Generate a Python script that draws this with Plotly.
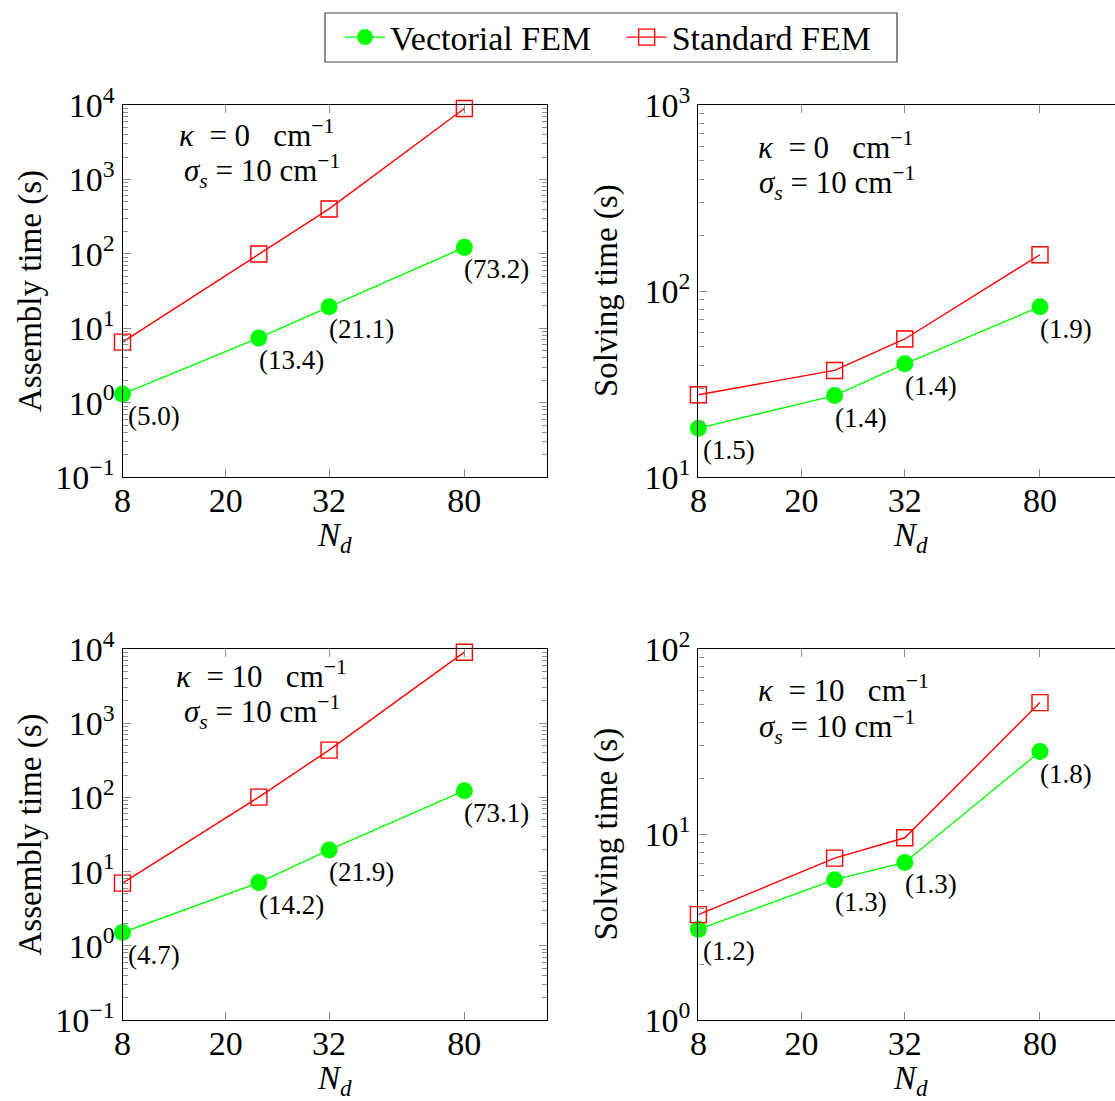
import numpy as np
import plotly.graph_objects as go

# ---------------- data ----------------
N_D = [8, 24, 32, 80]
X_TICKS = [8, 20, 32, 80]

asm_k0_vec = [1.30, 7.4, 19.4, 122]
asm_k0_std = [6.5, 99.5, 401, 8970]
asm_k0_ratio = [5.0, 13.4, 21.1, 73.2]

sol_k0_vec = [18.3, 27.4, 40.6, 82.4]
sol_k0_std = [27.7, 37.4, 55.2, 156.7]
sol_k0_ratio = [1.5, 1.4, 1.4, 1.9]

asm_k10_vec = [1.51, 7.11, 19.6, 123]
asm_k10_std = [7.0, 101, 434, 9060]
asm_k10_ratio = [4.7, 14.2, 21.9, 73.1]

sol_k10_vec = [3.08, 5.71, 7.07, 28.0]
sol_k10_std = [3.70, 7.46, 9.6, 51.4]
sol_k10_ratio = [1.2, 1.3, 1.3, 1.8]

# ---------------- scale (non-uniform horizontal axis of the original) ----------------
AXIS_POS = {8: 0.0, 20: 1.0, 24: 1.32, 32: 2.0, 80: 3.31}

FONT = "Liberation Serif, DejaVu Serif, serif"
GREEN = "#00ff00"
RED = "#ff0000"
TICKGRAY = "#8c8c8c"
W, H = 1115, 1101
UNIT = 103.2  # pixels per horizontal axis unit

def px_x(p):
    return p / W

def px_y(p):
    return 1 - p / H

panels = [
    dict(ax="", xdom=(122.5, 547), ydom=(105, 477), xr=(0, 4.11), yr=(-1, 4),
         vec=asm_k0_vec, std=asm_k0_std, ratio=asm_k0_ratio, ytitle="Assembly time (s)",
         ytx=30, kappa="0", kx=177, ky=133, sx=182, sy=171, mirror=True),
    dict(ax="2", xdom=(698.4, 1115), ydom=(105, 477), xr=(0, (1115 - 698.4) / UNIT), yr=(1, 3),
         vec=sol_k0_vec, std=sol_k0_std, ratio=sol_k0_ratio, ytitle="Solving time (s)",
         ytx=606, kappa="0", kx=756, ky=146, sx=757, sy=183, mirror=False),
    dict(ax="3", xdom=(122.5, 547), ydom=(649, 1020), xr=(0, 4.11), yr=(-1, 4),
         vec=asm_k10_vec, std=asm_k10_std, ratio=asm_k10_ratio, ytitle="Assembly time (s)",
         ytx=30, kappa="10", kx=174, ky=674, sx=182, sy=712, mirror=True),
    dict(ax="4", xdom=(698.4, 1115), ydom=(649, 1020), xr=(0, (1115 - 698.4) / UNIT), yr=(0, 2),
         vec=sol_k10_vec, std=sol_k10_std, ratio=sol_k10_ratio, ytitle="Solving time (s)",
         ytx=606, kappa="10", kx=756, ky=688, sx=757, sy=727, mirror=False),
]

fig = go.Figure()
annotations = []
NB = "\u00a0"

for i, p in enumerate(panels):
    xa = "x" + p["ax"]
    ya = "y" + p["ax"]
    xs = [AXIS_POS[n] for n in N_D]
    fig.add_trace(go.Scatter(
        x=xs, y=p["vec"], xaxis=xa, yaxis=ya, mode="lines+markers",
        name="Vectorial FEM" + NB * 3, legendgroup="v", showlegend=(i == 0),
        line=dict(color=GREEN, width=1.4),
        marker=dict(symbol="circle", size=17, color=GREEN, line=dict(width=0)),
        cliponaxis=False))
    fig.add_trace(go.Scatter(
        x=xs, y=p["std"], xaxis=xa, yaxis=ya, mode="lines+markers",
        name="Standard FEM", legendgroup="s", showlegend=(i == 0),
        line=dict(color=RED, width=1.4),
        marker=dict(symbol="square-open", size=16, color=RED, line=dict(width=1.4, color=RED)),
        cliponaxis=False))

    lo, hi = p["yr"]
    majors = list(range(lo, hi + 1))
    minors = [k * 10.0 ** e for e in range(lo, hi) for k in range(2, 10)]
    axis_common = dict(showline=True, linecolor="black", linewidth=1.2)
    fig.layout["xaxis" + p["ax"]] = dict(
        domain=[px_x(p["xdom"][0]), px_x(p["xdom"][1])], range=list(p["xr"]),
        anchor=ya, tickmode="array", tickvals=[AXIS_POS[t] for t in X_TICKS],
        ticktext=[str(t) for t in X_TICKS], ticks="inside", ticklen=8, tickcolor=TICKGRAY,
        mirror="ticks", showgrid=False, zeroline=False, automargin=False,
        ticklabelstandoff=-7,
        tickfont=dict(family=FONT, size=34, color="black"), **axis_common)
    fig.layout["yaxis" + p["ax"]] = dict(
        domain=[px_y(p["ydom"][1]), px_y(p["ydom"][0])], type="log", range=[lo, hi],
        anchor=xa, tickmode="array", tickvals=[10.0 ** e for e in majors],
        ticktext=["10<sup>%d</sup>" % e if e >= 0 else "10<sup>\u2212%d</sup>" % (-e) for e in majors],
        ticks="inside", ticklen=8, tickcolor=TICKGRAY,
        minor=dict(tickmode="array", tickvals=minors, ticks="inside", ticklen=5,
                   tickcolor=TICKGRAY, showgrid=False),
        mirror="ticks" if p["mirror"] else False, showgrid=False, zeroline=False,
        automargin=False,
        tickfont=dict(family=FONT, size=34, color="black"), **axis_common)

    # ratio labels
    for j, (x, v, r) in enumerate(zip(xs, p["vec"], p["ratio"])):
        annotations.append(dict(
            x=x, y=np.log10(v), xref=xa, yref=ya, text="(%.1f)" % r, showarrow=False,
            xanchor="left", yanchor="top", xshift=3 if j == 0 else -2, yshift=-5,
            font=dict(family=FONT, size=27, color="black")))

    # parameter text
    annotations.append(dict(
        x=px_x(p["kx"]), y=px_y(p["ky"]), xref="paper", yref="paper",
        text="<i>κ</i>" + NB * 2 + "=" + NB + p["kappa"] + NB * 3 + "cm<sup>\u22121</sup>",
        showarrow=False, xanchor="left", yanchor="middle",
        font=dict(family=FONT, size=31, color="black")))
    annotations.append(dict(
        x=px_x(p["sx"]), y=px_y(p["sy"]), xref="paper", yref="paper",
        text="<i>σ<sub>s</sub></i>" + NB + "=" + NB + "10" + NB + "cm<sup>\u22121</sup>",
        showarrow=False, xanchor="left", yanchor="middle",
        font=dict(family=FONT, size=31, color="black")))

    # axis titles
    annotations.append(dict(
        x=px_x(p["ytx"]), y=px_y((p["ydom"][0] + p["ydom"][1]) / 2), xref="paper", yref="paper",
        text=p["ytitle"], textangle=-90, showarrow=False, xanchor="center", yanchor="middle",
        font=dict(family=FONT, size=33, color="black")))
    xc = p["xdom"][0] + 4.11 * UNIT / 2
    annotations.append(dict(
        x=px_x(xc), y=px_y(p["ydom"][1] + 60), xref="paper", yref="paper",
        text="<i>N<sub>d</sub></i>", showarrow=False, xanchor="center", yanchor="middle",
        font=dict(family=FONT, size=33, color="black")))

# legend frame
shapes = [dict(type="rect", xref="paper", yref="paper",
               x0=px_x(325), x1=px_x(897), y0=px_y(62), y1=px_y(13),
               line=dict(color="#444444", width=1.2), fillcolor="white", layer="below")]

fig.update_layout(
    width=W, height=H, margin=dict(l=0, r=0, t=0, b=0, pad=0, autoexpand=False),
    paper_bgcolor="white", plot_bgcolor="white",
    annotations=annotations, shapes=shapes,
    legend=dict(orientation="h", x=px_x(608), y=px_y(37.5), xanchor="center", yanchor="middle",
                borderwidth=0, bgcolor="rgba(0,0,0,0)",
                font=dict(family=FONT, size=34, color="black"), itemwidth=40),
)

fig.write_html("out.html")
